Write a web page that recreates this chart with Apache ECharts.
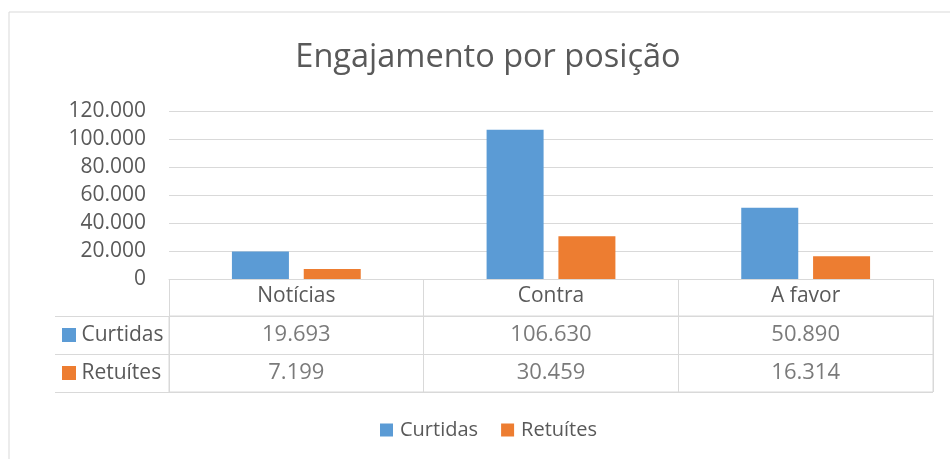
<!DOCTYPE html>
<html>
<head>
<meta charset="utf-8">
<script src="https://cdn.jsdelivr.net/npm/echarts@6/dist/echarts.min.js"></script>
<style>
  html, body { margin: 0; padding: 0; background: #fff; }
  #chart { width: 950px; height: 459px; }
</style>
</head>
<body>
<div id="chart"></div>
<script>
const categories = ["Notícias", "Contra", "A favor"];
const curtidas = [19693, 106630, 50890];
const retuites = [7199, 30459, 16314];
const rowNames = ["Curtidas", "Retuítes"];
const yTicks = [0, 20000, 40000, 60000, 80000, 100000, 120000];

const FONT = "Open Sans";
const TEXT = "#595959";
const LINE = "#d9d9d9";
const BLUE = "#5b9bd5";
const ORANGE = "#ed7d31";

// 19693 -> "19.693"
const fmt = (v) => String(v).replace(/\B(?=(\d{3})+(?!\d))/g, ".");

const chart = echarts.init(document.getElementById("chart"), null, { renderer: "canvas" });

const cellSeries = (name, values, color) => ({
  name,
  type: "scatter",
  xAxisIndex: 1,
  yAxisIndex: 1,
  symbolSize: 0,
  silent: true,
  itemStyle: { color },
  label: {
    show: true,
    position: "inside",
    color: TEXT,
    fontFamily: FONT,
    fontSize: 22,
    formatter: (p) => fmt(p.value[2])
  },
  data: values.map((v, i) => [i, name, v])
});

chart.setOption({
  backgroundColor: "#fff",
  animation: false,
  title: {
    text: "Engajamento por posição",
    left: 483,
    top: 36,
    textAlign: "center",
    textStyle: { color: TEXT, fontFamily: FONT, fontSize: 32.5, fontWeight: "normal" }
  },
  legend: {
    data: rowNames,
    left: 380,
    top: 420,
    padding: 0,
    icon: "rect",
    itemWidth: 13,
    itemHeight: 13,
    itemGap: 23,
    textStyle: { color: TEXT, fontFamily: FONT, fontSize: 20, padding: [0, 0, 0, 2] }
  },
  graphic: [
    {
      type: "rect",
      silent: true,
      shape: { x: 9, y: 12, width: 980, height: 480 },
      style: { fill: "none", stroke: LINE, lineWidth: 1 }
    }
  ],
  grid: [
    { left: 169, right: 17, top: 111, height: 168 },
    { left: 169, right: 17, top: 316, height: 76, show: true, borderColor: LINE, borderWidth: 1 }
  ],
  xAxis: [
    {
      type: "category",
      gridIndex: 0,
      data: categories,
      axisLine: { show: true, lineStyle: { color: LINE } },
      axisTick: { show: true, interval: 0, length: 37, lineStyle: { color: LINE } },
      axisLabel: { color: TEXT, fontFamily: FONT, fontSize: 21, margin: 7 }
    },
    {
      type: "category",
      gridIndex: 1,
      data: categories,
      axisLine: { show: false },
      axisTick: { show: false },
      axisLabel: { show: false },
      splitLine: { show: true, interval: 0, lineStyle: { color: LINE } }
    }
  ],
  yAxis: [
    {
      type: "value",
      gridIndex: 0,
      min: 0,
      max: 120000,
      interval: 20000,
      axisLine: { show: false },
      axisTick: { show: false },
      axisLabel: {
        color: TEXT,
        fontFamily: FONT,
        fontSize: 21,
        margin: 23,
        formatter: (v) => (yTicks.indexOf(v) >= 0 ? fmt(v) : "")
      },
      splitLine: { lineStyle: { color: LINE } }
    },
    {
      type: "category",
      gridIndex: 1,
      data: rowNames,
      inverse: true,
      axisLine: { show: false },
      axisTick: { show: true, interval: 0, length: 114, lineStyle: { color: LINE } },
      splitLine: { show: true, interval: 0, lineStyle: { color: LINE } },
      axisLabel: {
        align: "left",
        margin: 107,
        fontFamily: FONT,
        fontSize: 21,
        color: TEXT,
        formatter: (v) => (v === "Curtidas" ? "{b|}" : "{o|}") + " " + v,
        rich: {
          b: { width: 14, height: 14, backgroundColor: BLUE },
          o: { width: 14, height: 14, backgroundColor: ORANGE }
        }
      }
    },
    {
      type: "category",
      gridIndex: 1,
      data: rowNames,
      inverse: true,
      offset: 114,
      axisLine: { show: true, lineStyle: { color: LINE } },
      axisTick: { show: false },
      axisLabel: { show: false }
    }
  ],
  series: [
    {
      name: "Curtidas",
      type: "bar",
      xAxisIndex: 0,
      yAxisIndex: 0,
      barWidth: 57,
      barGap: "26%",
      itemStyle: { color: BLUE },
      data: curtidas
    },
    {
      name: "Retuítes",
      type: "bar",
      xAxisIndex: 0,
      yAxisIndex: 0,
      barWidth: 57,
      barGap: "26%",
      itemStyle: { color: ORANGE },
      data: retuites
    },
    cellSeries("Curtidas", curtidas, BLUE),
    cellSeries("Retuítes", retuites, ORANGE)
  ]
});
</script>
</body>
</html>
